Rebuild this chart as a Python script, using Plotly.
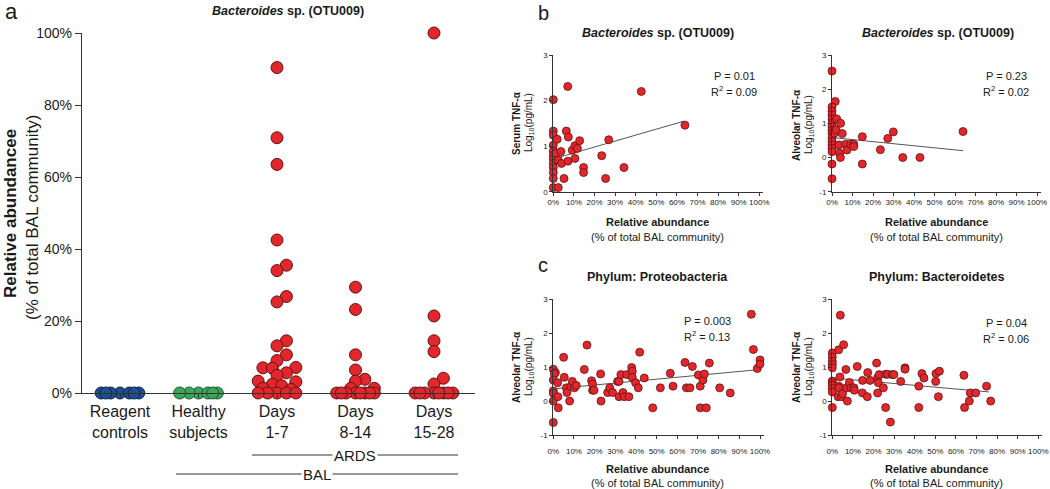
import plotly.graph_objects as go
import numpy as np

W, H = 1050, 489
FONT = "Liberation Sans, Arial, sans-serif"

# ---------------- Panel a data ----------------
group_labels = ["Reagent<br>controls", "Healthy<br>subjects", "Days<br>1-7", "Days<br>8-14", "Days<br>15-28"]
reagent_vals = [0, 0, 0, 0, 0, 0, 0]
healthy_vals = [0, 0, 0, 0, 0, 0]
days1_7_vals = [90.4, 70.9, 63.5, 42.5, 35.5, 34.0, 26.8, 25.3, 14.5, 13.1, 10.6, 9.0, 7.1, 7.0,
                6.9, 5.6, 4.9, 3.3, 3.1, 2.4, 2.0, 1.3, 1.0, 0, 0, 0, 0, 0]
days8_14_vals = [29.4, 23.2, 10.6, 6.4, 3.8, 3.3, 1.3, 1.3, 0, 0, 0, 0, 0, 0, 0, 0]
days15_28_vals = [100, 21.4, 14.5, 11.5, 4.1, 2.5, 0, 0, 0, 0, 0, 0, 0, 0]
a_ticks = [0, 20, 40, 60, 80, 100]
a_tick_labels = ["0%", "20%", "40%", "60%", "80%", "100%"]

# ---------------- Panel b data ----------------
b_left_x = [0, 7.0, 42.7, 63.9, 0, 0, 0, 0, 0, 0, 0, 0, 0, 0, 0, 1.9, 1.3, 2.4, 3.7, 4.0, 5.2, 2.4,
            6.3, 7.3, 7.1, 9.2, 10.5, 11.7, 10.5, 12.8, 14.7, 14.7, 23.5, 26.9, 25.4, 34.3]
b_left_y = [2.02, 2.31, 2.20, 1.46, 1.33, 1.24, 1.02, 0.89, 0.80, 0.72, 0.62, 0.53, 0.42, 0.29, 0.09,
            1.15, 0.84, 0.69, 0.88, 0.62, 0.29, 0.09, 1.33, 1.20, 0.67, 0.91, 1.01, 0.95, 0.73, 1.12,
            0.53, 0.42, 0.79, 1.14, 0.29, 0.53]
b_left_fit_x = [0.8, 63.6]
b_left_fit_y = [0.73, 1.55]

b_right_x = [0, 1.6, 0, 0, 0, 0, 0, 0, 0, 0, 0, 0, 0, 0, 0, 0, 0, 2.3, 1.1, 2.0, 4.2, 3.4, 3.7, 4.1,
             5.0, 6.7, 7.3, 9.1, 10.6, 10.6, 14.8, 14.8, 23.6, 27.2, 29.9, 34.5, 42.9, 63.9]
b_right_y = [2.53, 1.64, 1.48, 1.36, 1.25, 1.13, 1.0, 0.9, 0.8, 0.71, 0.58, 0.47, 0.37, 0.27, 0.17,
             -0.19, -0.62, 1.13, 0.71, 0.81, 1.0, 0.37, 0.13, 0.0, 0.70, 0.39, 0.22, 0.39, 0.39, 0.32,
             0.61, -0.19, 0.23, 0.56, 0.75, 0.0, 0.0, 0.76]
b_right_fit_x = [0.8, 64.0]
b_right_fit_y = [0.58, 0.20]

# ---------------- Panel c data ----------------
c_left_x = [0, 1.0, 0.5, 0, 2.1, 0, 0, 0, 2.2, 2.4, 0,
            5.0, 5.3, 6.3, 6.6, 7.9, 8.5, 9.2, 10.2, 11.1, 15.0, 16.3, 18.5, 19.0, 19.0, 19.7, 22.9,
            23.1, 26.3, 27.3, 28.7, 31.1, 31.8, 31.8, 32.7, 33.7, 34.4, 35.6, 36.6, 37.9, 38.2, 38.2,
            39.8, 41.1, 41.8, 44.0, 48.1, 51.8, 56.6, 57.9, 63.7, 64.4, 66.1, 67.3, 70.2, 71.1, 71.1,
            72.4, 73.1, 74.0, 75.5, 80.5, 85.6, 95.8, 96.8, 98.7, 100, 100]
c_left_y = [0.94, 0.84, 0.80, 0.62, 0.54, 0.30, 0.23, 0.0, 0.13, -0.20, -0.63,
            1.29, 0.70, 0.39, 0.25, 0.0, 0.43, 0.58, 0.39, 0.46, 0.93, 1.65, 0.60, 0.50, 0.32, 0.32, 0.80,
            0.0, 0.25, 0.39, 0.25, 0.58, 0.58, 0.13, 0.78, 0.25, 0.13, 0.78, 0.13, 0.99, 0.88, 0.70,
            0.54, 0.39, 1.44, 0.68, -0.20, 0.39, 0.82, 0.44, 1.14, 0.39, 0.39, 1.02, 0.77, 0.44, -0.20,
            0.62, 0.80, -0.20, 1.12, 0.39, 0.24, 2.56, 1.52, 0.96, 1.21, 1.09]
c_left_fit_x = [0, 100]
c_left_fit_y = [0.36, 0.93]

c_right_x = [0, 0, 0, 0, 0, 0, 0, 0, 0, 0, 0,
             3.9, 3.1, 5.5, 3.7, 3.2, 3.2, 2.8, 4.5, 5.0, 6.6, 6.9, 7.3, 8.3, 9.1, 10.5, 10.7, 12.1,
             14.7, 14.6, 17.0, 17.2, 18.3, 21.5, 22.0, 22.3, 22.0, 22.8, 24.8, 25.9, 25.9, 26.9, 28.2,
             29.1, 29.9, 33.2, 35.3, 35.3, 42.0, 42.0, 43.5, 44.5, 50.2, 50.3, 51.5, 52.0, 63.9, 64.2,
             66.5, 67.0, 69.6, 74.9, 76.9]
c_right_y = [1.42, 1.30, 1.17, 1.08, 0.98, 0.59, 0.53, 0.47, 0.37, 0.27, -0.19,
             2.53, 1.51, 1.66, 0.71, 0.44, 0.39, 0.13, 0.13, 0.22, 0.93, 0.39, 0.0, 0.55, 0.39, 0.39, 0.32, 1.02,
             0.61, 0.24, 0.13, 0.84, 0.61, 1.12, 0.69, 0.54, 0.24, 0.78, 0.39, 0.79, -0.19, 0.79, -0.62,
             0.78, 0.78, 0.58, 0.98, 0.94, 0.44, -0.19, 0.81, 0.68, 0.58, 0.81, 0.13, 0.88, 0.76, -0.19,
             0.0, 0.24, 0.24, 0.44, 0.0]
c_right_fit_x = [0, 76]
c_right_fit_y = [0.68, 0.27]

pct_ticks = [0, 10, 20, 30, 40, 50, 60, 70, 80, 90, 100]
pct_tick_labels = ["0%", "10%", "20%", "30%", "40%", "50%", "60%", "70%", "80%", "90%", "100%"]

# ---------------- helpers ----------------
def px(x):
    return x / W

def py(y):
    return 1 - y / H

A_XPX = 78.5   # px per category unit (panel a)
A_YPX = 3.6    # px per % (panel a)


def swarm(vals, dmin=8.5, step=0.06, nslot=4):
    """Simple beeswarm: offsets (category units) so markers do not overlap much."""
    order = sorted(range(len(vals)), key=lambda i: vals[i])
    cands = [0.0]
    for k in range(1, nslot + 1):
        cands += [k * step, -k * step]
    placed = []
    offs = [0.0] * len(vals)
    for i in order:
        v = vals[i]
        dists = []
        for c in cands:
            if placed:
                md = min(np.hypot((c - pc) * A_XPX, (v - pv) * A_YPX) for pc, pv in placed)
            else:
                md = 1e9
            dists.append(md)
        chosen = None
        for c, md in zip(cands, dists):
            if md >= dmin:
                chosen = c
                break
        if chosen is None:
            best = max(dists)
            ties = [c for c, md in zip(cands, dists) if abs(md - best) < 1e-6]
            chosen = max(ties, key=lambda c: (abs(c), c))
        offs[i] = chosen
        placed.append((chosen, v))
    return offs

RED = "#e3262b"
RED_LINE = "#5e1414"

fig = go.Figure()

a_groups = [reagent_vals, healthy_vals, days1_7_vals, days8_14_vals, days15_28_vals]
a_fill = ["#1d4f8e", "#3ba55a", RED, RED, RED]
a_line = ["#0d2547", "#1c5a2c", RED_LINE, RED_LINE, RED_LINE]
for gi, vals in enumerate(a_groups):
    offs = swarm(vals)
    fig.add_trace(go.Scatter(
        x=[gi + o for o in offs], y=vals, mode="markers", xaxis="x", yaxis="y",
        marker=dict(size=12, color=a_fill[gi], line=dict(color=a_line[gi], width=1)),
        cliponaxis=False, showlegend=False, hoverinfo="skip"))

small = [
    (b_left_x, b_left_y, b_left_fit_x, b_left_fit_y, "2"),
    (b_right_x, b_right_y, b_right_fit_x, b_right_fit_y, "3"),
    (c_left_x, c_left_y, c_left_fit_x, c_left_fit_y, "4"),
    (c_right_x, c_right_y, c_right_fit_x, c_right_fit_y, "5"),
]
for xs, ys, fx, fy, k in small:
    fig.add_trace(go.Scatter(x=fx, y=fy, mode="lines", xaxis="x" + k, yaxis="y" + k,
                             line=dict(color="#555555", width=1), showlegend=False,
                             hoverinfo="skip", cliponaxis=False))
    fig.add_trace(go.Scatter(x=xs, y=ys, mode="markers", xaxis="x" + k, yaxis="y" + k,
                             marker=dict(size=8, color=RED, line=dict(color=RED_LINE, width=0.8)),
                             cliponaxis=False, showlegend=False, hoverinfo="skip"))

AX = "#333333"

def small_x(dom, anchor, standoff):
    return dict(domain=dom, anchor=anchor, range=[0, 102], tickvals=pct_ticks,
                ticktext=pct_tick_labels, automargin=False,
                ticks="outside", ticklen=3, tickwidth=1, tickcolor=AX, showline=True,
                linecolor=AX, linewidth=1, showgrid=False, zeroline=False,
                tickfont=dict(size=8, color="#222", family=FONT), ticklabelstandoff=standoff)

def small_y(dom, anchor, rng):
    vals = list(range(rng[0], rng[1] + 1))
    return dict(domain=dom, anchor=anchor, range=rng, tickvals=vals,
                ticktext=[str(v) for v in vals], automargin=False,
                ticks="outside", ticklen=3, tickwidth=1, tickcolor=AX, showline=True,
                linecolor=AX, linewidth=1, showgrid=False, zeroline=False,
                tickfont=dict(size=8, color="#222", family=FONT))

b_ydom = [py(191.7), py(55)]
c_ydom = [py(435), py(299.3)]

fig.update_layout(
    width=W, height=H, margin=dict(l=0, r=0, t=0, b=0, autoexpand=False),
    paper_bgcolor="white", plot_bgcolor="white",
    font=dict(family=FONT, color="#1a1a1a"),
    xaxis=dict(domain=[px(82), px(475)], anchor="y", range=[-38 / A_XPX, 355 / A_XPX],
               tickvals=[0, 1, 2, 3, 4], ticktext=group_labels, ticks="outside", ticklen=4,
               automargin=False,
               tickcolor=AX, showline=True, linecolor=AX, linewidth=1.3, showgrid=False,
               zeroline=False, tickfont=dict(size=16, color="#1a1a1a", family=FONT)),
    yaxis=dict(domain=[py(393), py(33)], anchor="x", range=[0, 100], tickvals=a_ticks,
               ticktext=a_tick_labels, automargin=False,
               ticks="outside", ticklen=6, tickcolor=AX, showline=True,
               linecolor=AX, linewidth=1.3, showgrid=False, zeroline=False,
               tickfont=dict(size=14, color="#1a1a1a", family=FONT)),
    xaxis2=small_x([px(553.3), px(553.3 + 2.06 * 102)], "y2", 0),
    yaxis2=small_y(b_ydom, "x2", [0, 3]),
    xaxis3=small_x([px(832), px(832 + 2.05 * 102)], "y3", 0),
    yaxis3=small_y(b_ydom, "x3", [-1, 3]),
    xaxis4=small_x([px(553.3), px(553.3 + 2.067 * 102)], "y4", 5),
    yaxis4=small_y(c_ydom, "x4", [-1, 3]),
    xaxis5=small_x([px(832.3), px(832.3 + 2.06 * 102)], "y5", 5),
    yaxis5=small_y(c_ydom, "x5", [-1, 3]),
)

# bracket lines under panel a
ards_x = [(252 - 120) / A_XPX, (458 - 120) / A_XPX]
bal_x = [(176 - 120) / A_XPX, (458 - 120) / A_XPX]
for (x0, x1), yy in [(ards_x, 455), (bal_x, 474)]:
    fig.add_shape(type="line", xref="x", yref="paper", x0=x0, x1=x1, y0=py(yy), y1=py(yy),
                  line=dict(color="#333", width=1))

ann = []
def text(x, y, t, size, bold=False, xref="paper", angle=0, xanchor="center"):
    ann.append(dict(x=x, y=y, xref=xref, yref="paper", text=("<b>%s</b>" % t) if bold else t,
                    showarrow=False, textangle=angle, xanchor=xanchor, yanchor="middle",
                    font=dict(size=size, family=FONT, color="#1a1a1a")))

text(sum(ards_x) / 2, py(455), "ARDS", 15, xref="x")
text(sum(bal_x) / 2, py(474), "BAL", 15, xref="x")
ann[-1]["bgcolor"] = "white"; ann[-2]["bgcolor"] = "white"
ann[-1]["borderpad"] = 1; ann[-2]["borderpad"] = 1

# panel letters
text(px(11), py(12), "a", 22)
text(px(543), py(13), "b", 20)
text(px(543), py(265), "c", 20)

# titles
title_b = "<b><i>Bacteroides</i> sp. (OTU009)</b>"
text(px(288), py(11), title_b, 12.5)
text(px(658), py(33), title_b, 12.5)
text(px(938), py(33), title_b, 12.5)
text(px(657), py(277), "Phylum: Proteobacteria", 12.5, bold=True)
text(px(937), py(277), "Phylum: Bacteroidetes", 12.5, bold=True)

# panel a y title
text(px(10), py(214), "Relative abundancee", 17, bold=True, angle=-90)
text(px(32), py(218), "(% of total BAL community)", 17, angle=-90)

# small panel y titles
for xb, yc, lab in [(516, 123, "Serum TNF-α"), (796, 125, "Alveolar TNF-α"),
                    (516, 367, "Alveolar TNF-α"), (796, 367, "Alveolar TNF-α")]:
    text(px(xb), py(yc), lab, 10, bold=True, angle=-90)
    text(px(xb + 13), py(yc), "Log<sub>10</sub>(pg/mL)", 10, angle=-90)

# small panel x titles
for xc, y1, y2 in [(657, 222, 237), (936, 222, 237), (657, 469, 483), (936, 469, 483)]:
    text(px(xc), py(y1), "Relative abundance", 11, bold=True)
    text(px(xc), py(y2), "(% of total BAL community)", 11)

# stats
for xc, y1, p, r in [(734, 76, "0.01", "0.09"), (1006, 76, "0.23", "0.02"),
                     (707, 321, "0.003", "0.13"), (1006, 323, "0.04", "0.06")]:
    text(px(xc), py(y1), "P = " + p, 11)
    text(px(xc), py(y1 + 15), "R<sup>2</sup> = " + r, 11)

fig.update_layout(annotations=ann)
fig.write_html("out.html", config={"displayModeBar": False},
               post_script="document.body.style.margin='0px';document.body.style.padding='0px';")
